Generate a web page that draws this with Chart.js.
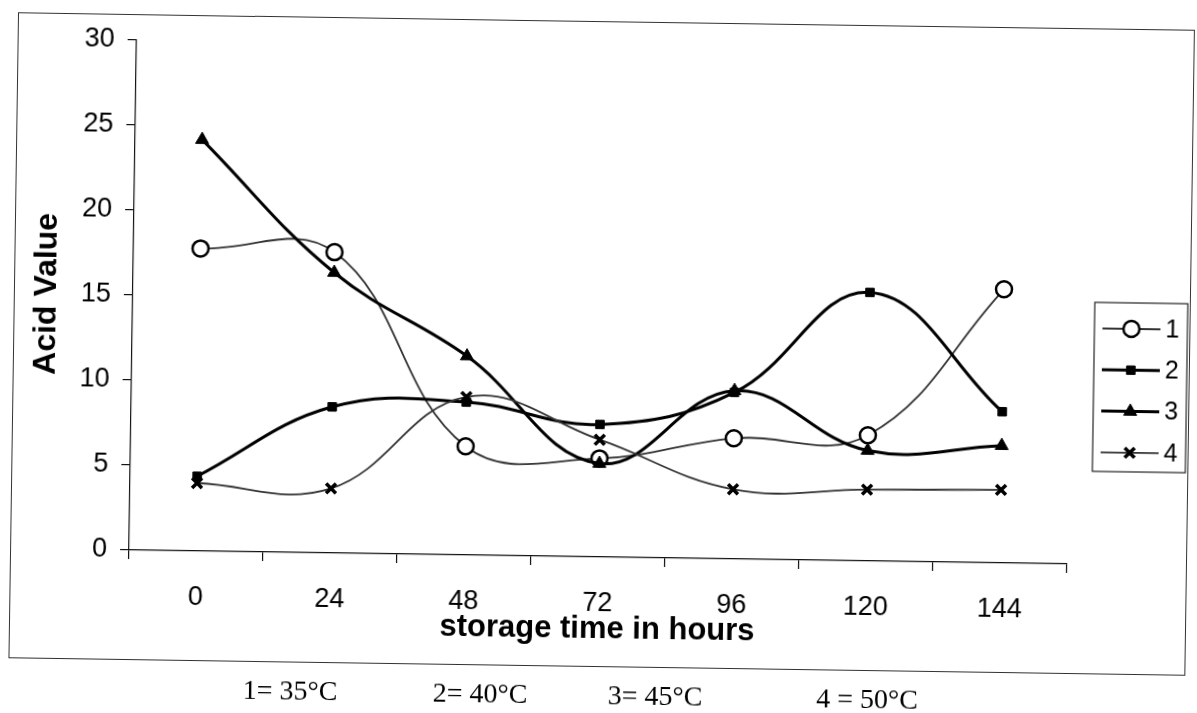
<!DOCTYPE html>
<html>
<head>
<meta charset="utf-8">
<script src="https://cdn.jsdelivr.net/npm/chart.js@4.4.1/dist/chart.umd.min.js"></script>
<style>
  html, body { margin: 0; padding: 0; background: #fff; overflow: hidden; }
  /* the scanned page sits slightly turned, so the whole figure is turned with it */
  #page { position: absolute; left: 0; top: 0; width: 1197px; height: 713px;
          transform: rotate(0.85deg); transform-origin: 598px 356px; }
  #frame { position: absolute; left: 13px; top: 21px; width: 1177px; height: 646px;
           box-sizing: border-box; border: 1.5px solid #333; }
  #myChart { position: absolute; left: 0; top: 0; }
  .cap { position: absolute; top: 678px; width: 160px; margin-left: -80px; text-align: center;
         font-family: "Liberation Serif", "Times New Roman", serif; font-size: 28px;
         line-height: 34px; color: #000; white-space: nowrap; }
</style>
</head>
<body>
<div id="page">
  <div id="frame"></div>
  <canvas id="myChart" width="1197" height="713"></canvas>
  <div id="captions"></div>
</div>
<script>
// storage time (hours) on the x axis
var hours = ['0', '24', '48', '72', '96', '120', '144'];

// acid value per storage temperature
var acid35 = [17.8, 17.7, 6.4, 5.8, 7.1, 7.4, 16.1];
var acid40 = [4.4, 8.6, 9.0, 7.8, 9.8, 15.8, 8.9];
var acid45 = [24.2, 16.5, 11.7, 5.5, 9.9, 6.5, 6.9];
var acid50 = [4.0, 3.8, 9.3, 6.9, 4.1, 4.2, 4.3];

var seriesNames = ['1', '2', '3', '4'];
var yTicks = [0, 5, 10, 15, 20, 25, 30];
var captions = ['1= 35°C', '2= 40°C', '3= 45°C', '4 = 50°C'];
var captionX = [295, 485, 660, 872];

var sans = '"Liberation Sans", Arial, sans-serif';

// captions under the frame
var capBox = document.getElementById('captions');
captions.forEach(function (txt, i) {
    var d = document.createElement('div');
    d.className = 'cap';
    d.style.left = captionX[i] + 'px';
    d.textContent = txt;
    capBox.appendChild(d);
});

// boxed legend on the right, line with marker in the middle like the original
var boxLegend = {
    id: 'boxLegend',
    afterDraw: function (chart) {
        var ctx = chart.ctx;
        ctx.save();
        ctx.strokeStyle = '#222';
        ctx.lineWidth = 1.2;
        ctx.strokeRect(1094, 295, 93, 169);
        chart.data.datasets.forEach(function (ds, i) {
            var y = 321 + i * 41.3;
            ctx.strokeStyle = ds.borderColor;
            ctx.lineWidth = ds.borderWidth;
            ctx.beginPath();
            ctx.moveTo(1102, y);
            ctx.lineTo(1160, y);
            ctx.stroke();
            ctx.fillStyle = ds.pointBackgroundColor;
            ctx.strokeStyle = ds.pointBorderColor;
            ctx.lineWidth = ds.pointBorderWidth;
            Chart.helpers.drawPoint(ctx, {
                pointStyle: ds.pointStyle,
                radius: ds.pointRadius,
                borderWidth: ds.pointBorderWidth,
                rotation: 0
            }, 1131, y);
            ctx.fillStyle = '#000';
            ctx.font = '25px ' + sans;
            ctx.textAlign = 'left';
            ctx.textBaseline = 'middle';
            ctx.fillText(ds.label, 1165, y + 1);
        });
        ctx.restore();
    }
};

var ctx = document.getElementById('myChart').getContext('2d');
var myChart = new Chart(ctx, {
    type: 'line',
    data: {
        labels: hours,
        datasets: [{
            label: seriesNames[0],
            data: acid35,
            borderColor: '#333',
            borderWidth: 1.8,
            pointStyle: 'circle',
            pointRadius: 8,
            pointBorderWidth: 2.5,
            pointBackgroundColor: '#fff',
            pointBorderColor: '#000',
            tension: 0.4,
            order: 4
        }, {
            label: seriesNames[1],
            data: acid40,
            borderColor: '#000',
            borderWidth: 3,
            pointStyle: 'rect',
            pointRadius: 6,
            pointBorderWidth: 1,
            pointBackgroundColor: '#000',
            pointBorderColor: '#000',
            tension: 0.4,
            order: 3
        }, {
            label: seriesNames[2],
            data: acid45,
            borderColor: '#000',
            borderWidth: 3,
            pointStyle: 'triangle',
            pointRadius: 7.5,
            pointBorderWidth: 1,
            pointBackgroundColor: '#000',
            pointBorderColor: '#000',
            tension: 0.4,
            order: 2
        }, {
            label: seriesNames[3],
            data: acid50,
            borderColor: '#333',
            borderWidth: 1.8,
            pointStyle: 'crossRot',
            pointRadius: 7,
            pointBorderWidth: 3.5,
            pointBackgroundColor: '#000',
            pointBorderColor: '#000',
            tension: 0.4,
            order: 1
        }]
    },
    options: {
        responsive: false,
        animation: false,
        devicePixelRatio: 1,
        layout: { padding: { left: 0, top: 47, right: 127, bottom: 33 } },
        plugins: {
            legend: { display: false },
            tooltip: { enabled: false }
        },
        scales: {
            x: {
                type: 'category',
                offset: true,
                grid: { offset: true, drawOnChartArea: false, tickLength: 9, color: '#111', lineWidth: 1.2 },
                border: { display: true, color: '#111', width: 1.2 },
                ticks: { color: '#000', font: { family: sans, size: 27 }, padding: 21, maxRotation: 0, autoSkip: false },
                title: {
                    display: true,
                    text: 'storage time in hours',
                    color: '#000',
                    font: { family: sans, size: 31, weight: 'bold' },
                    padding: { top: 0, bottom: 32 }
                },
                afterFit: function (scale) { scale.height = 123; }
            },
            y: {
                min: 0,
                max: 30,
                grid: { drawOnChartArea: false, tickLength: 9, color: '#111', lineWidth: 1.2 },
                border: { display: true, color: '#111', width: 1.2 },
                ticks: { color: '#000', font: { family: sans, size: 27 }, padding: 13 },
                afterBuildTicks: function (scale) {
                    scale.ticks = yTicks.map(function (v) { return { value: v }; });
                },
                title: {
                    display: true,
                    text: 'Acid Value',
                    color: '#000',
                    font: { family: sans, size: 32, weight: 'bold' },
                    padding: { top: 27, bottom: 0 }
                },
                afterFit: function (scale) { scale.width = 132; }
            }
        }
    },
    plugins: [boxLegend]
});
</script>
</body>
</html>
